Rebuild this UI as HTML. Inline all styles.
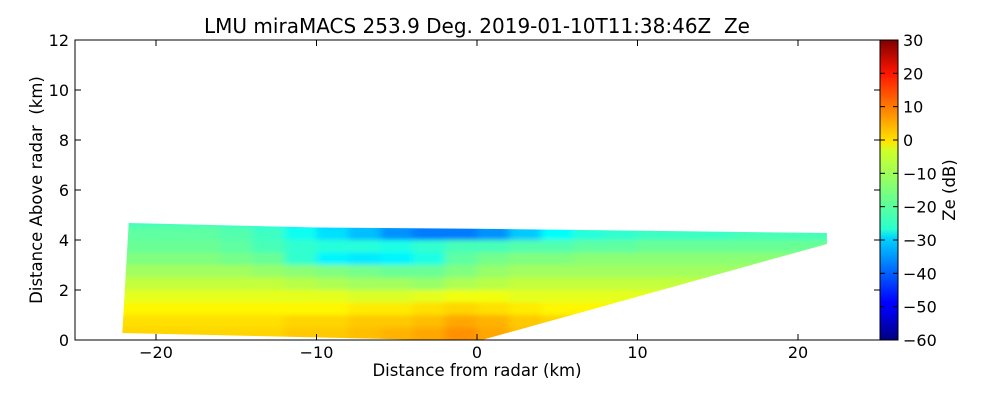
<!DOCTYPE html>
<html><head><meta charset="utf-8"><style>
body{margin:0;background:#fff;font-family:"Liberation Sans",sans-serif}
svg text{font-family:"DejaVu Sans","Liberation Sans",sans-serif;fill:#000}
</style></head><body>
<svg id="chart" width="1000" height="400" viewBox="0 0 1000 400" xmlns="http://www.w3.org/2000/svg">
<defs>
<clipPath id="wedge"><polygon id="wedgePoly"/></clipPath>
<filter id="blur" x="-5%" y="-20%" width="110%" height="140%"><feGaussianBlur stdDeviation="4 2.5"/></filter>
<linearGradient id="jet" x1="0" y1="1" x2="0" y2="0">
<stop offset="0" stop-color="#00007f"/><stop offset="0.11" stop-color="#0000ff"/><stop offset="0.125" stop-color="#0000ff"/>
<stop offset="0.34" stop-color="#00d4ff"/><stop offset="0.37" stop-color="#29ffce"/><stop offset="0.5" stop-color="#7dff7a"/>
<stop offset="0.63" stop-color="#ceff29"/><stop offset="0.66" stop-color="#ffe600"/><stop offset="0.89" stop-color="#ff1400"/><stop offset="1" stop-color="#7f0000"/>
</linearGradient>
</defs>
<rect x="75" y="40" width="805" height="300" fill="#fff"/>
<g clip-path="url(#wedge)"><g id="cells" filter="url(#blur)"></g></g>
<rect x="75" y="40" width="805" height="300" fill="none" stroke="#000" stroke-width="1"/>
<g id="xticks"></g>
<g id="yticks"></g>
<text x="477" y="33" font-size="20" text-anchor="middle" xml:space="preserve">LMU miraMACS 253.9 Deg. 2019-01-10T11:38:46Z  Ze</text>
<text x="477" y="376" font-size="16.5" text-anchor="middle">Distance from radar (km)</text>
<text transform="translate(42,190) rotate(-90)" font-size="16.5" text-anchor="middle" xml:space="preserve">Distance Above radar  (km)</text>
<rect x="880" y="40" width="18" height="300" fill="url(#jet)" stroke="#000"/>
<g id="cticks"></g>
<text transform="translate(955,190) rotate(-90)" font-size="16.5" text-anchor="middle">Ze (dB)</text>
</svg>
<script>
const xTicks=[-20,-10,0,10,20];
const yTicks=[0,2,4,6,8,10,12];
const cTicks=[30,20,10,0,-10,-20,-30,-40,-50,-60];
const colCenters=[-21,-19,-17,-15,-13,-11,-9,-7,-5,-3,-1,1,3,5,7,9,11,13,15,17,19,21];
const rowBottoms=[4.5,4.0,3.5,3.0,2.5,2.0,1.5,1.0,0.5,0.0];
const zeRows=[
[-20,-20,-20,-21,-23,-27,-30,-32,-35,-37,-37,-35,-30,-27,-24,-23,-22,-22,-22,-22,-22,-22],
[-18,-18,-18,-19,-21,-25,-29,-32,-36,-38,-38,-36,-31,-26,-23,-22,-21,-21,-21,-20,-20,-20],
[-17,-17,-17,-18,-20,-22,-23,-23,-24,-22,-20,-20,-19,-19,-18,-18,-17,-17,-17,-17,-17,-17],
[-15,-15,-15,-16,-17,-22,-27,-28,-27,-24,-18,-16,-15,-15,-14,-14,-14,-14,-14,-14,-14,-14],
[-12,-12,-12,-12,-13,-14,-15,-16,-17,-17,-15,-13,-12,-12,-12,-12,-12,-12,-12,-12,-12,-12],
[-9,-9,-9,-9,-9,-10,-11,-12,-12,-13,-11,-10,-9,-9,-9,-9,-9,-9,-9,-9,-9,-9],
[-6,-6,-6,-6,-6,-6,-6,-7,-7,-6,-5,-5,-6,-6,-6,-6,-6,-6,-6,-6,-6,-6],
[-3,-3,-3,-3,-3,-3,-3,-2,-2,-1,0,-1,-2,-3,-3,-3,-3,-3,-3,-3,-3,-3],
[-1,-1,-1,-1,-1,0,0,1,1,2,4,3,1,0,-1,-1,-1,-1,-1,-1,-1,-1],
[0,0,0,0,0,1,1,2,3,4,6,4,2,1,0,0,0,0,0,0,0,0]];
const wedgeKm=[[-22.1,0.28],[-21.7,4.68],[-10,4.5],[0,4.45],[21.8,4.28],[21.8,3.84],[0.3,0],[-3,0],[-22.1,0.28]];
const X=v=>477+v*16.05, Y=v=>340-v*25, C=v=>340-(v+60)/90*300;
function jet(t){t=Math.max(0,Math.min(1,t));const f=(a)=>Math.max(0,Math.min(1,1.5-Math.abs(4*t-a)));
return `rgb(${Math.round(255*f(3))},${Math.round(255*f(2))},${Math.round(255*f(1))})`;}
const NS="http://www.w3.org/2000/svg";
document.getElementById('wedgePoly').setAttribute('points',wedgeKm.map(p=>X(p[0])+','+Y(p[1])).join(' '));
const cg=document.getElementById('cells');
rowBottoms.forEach((hb,r)=>colCenters.forEach((xc,c)=>{
 const e=document.createElementNS(NS,'rect');
 
 
 const x0=X(xc-1),x1=X(xc+1),y0=Y(hb+0.5),y1=Y(hb);
 e.setAttribute('x',x0-(c==0?20:0));e.setAttribute('width',x1-x0+(c==0||c==colCenters.length-1?20:0)+0.5);
 e.setAttribute('y',y0-(r==0?15:0));e.setAttribute('height',y1-y0+(r==0||r==rowBottoms.length-1?15:0)+0.5);
 e.setAttribute('fill',jet((zeRows[r][c]+60)/90));cg.appendChild(e);}));
function tick(g,x1,y1,x2,y2){const l=document.createElementNS(NS,'line');l.setAttribute('x1',x1);l.setAttribute('y1',y1);l.setAttribute('x2',x2);l.setAttribute('y2',y2);l.setAttribute('stroke','#000');g.appendChild(l);}
function label(g,x,y,t,a,name){const e=document.createElementNS(NS,'text');
 
 
 e.setAttribute('x',x);e.setAttribute('y',y);e.setAttribute('font-size','16');e.setAttribute('text-anchor',a);e.textContent=String(t).replace('-','\u2212');g.appendChild(e);}
const xg=document.getElementById('xticks');
xTicks.forEach(v=>{tick(xg,X(v),340,X(v),334);tick(xg,X(v),40,X(v),46);label(xg,X(v),358,v,'middle','x-tick-label');});
const yg=document.getElementById('yticks');
yTicks.forEach(v=>{tick(yg,75,Y(v),81,Y(v));tick(yg,880,Y(v),874,Y(v));label(yg,69,Y(v)+6,v,'end','y-tick-label');});
const cgx=document.getElementById('cticks');
cTicks.forEach(v=>{tick(cgx,898,C(v),893,C(v));tick(cgx,880,C(v),885,C(v));label(cgx,903,C(v)+6,v,'start','colorbar-tick-label');});
</script>
</body></html>
